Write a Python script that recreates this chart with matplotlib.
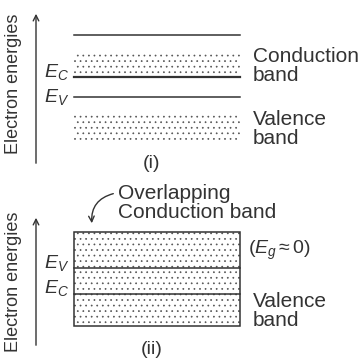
import matplotlib
matplotlib.use("Agg")
import matplotlib.pyplot as plt
from matplotlib.patches import Rectangle, FancyArrowPatch

plt.rcParams['font.family'] = ['Liberation Sans', 'DejaVu Sans']
plt.rcParams['mathtext.fontset'] = 'custom'
plt.rcParams['mathtext.rm'] = 'Liberation Sans'
plt.rcParams['mathtext.it'] = 'Liberation Sans:italic'
plt.rcParams['hatch.linewidth'] = 0.5

# Panel (i): separated bands (pixel-space energy levels, top = high)
p1_top_line = 35
p1_conduction = (52, 77)
p1_ev_line = 97
p1_valence = (115, 142)
# Panel (ii): overlapping bands
p2_box = (232, 326)
p2_lines = [268, 294]
band_x = (74, 240)

labels_i = ["Conduction\nband", "Valence\nband"]
labels_ii = ["Overlapping\nConduction band", r"$(E_g \approx 0)$", "Valence\nband"]

TXT = '#333333'
LINE = '#333333'
DOT = '#555555'
HATCH = '...'

fig = plt.figure(figsize=(3.6, 3.58), dpi=100)
ax = fig.add_axes([0, 0, 1, 1])
ax.set_xlim(0, 360)
ax.set_ylim(358, 0)
ax.axis('off')

x0, x1 = band_x
w = x1 - x0


def stipple(y_top, y_bot):
    ax.add_patch(Rectangle((x0, y_top), w, y_bot - y_top, facecolor='white',
                           edgecolor=DOT, lw=0, hatch=HATCH))


# ---- Panel (i)
ax.annotate('', xy=(36, 11), xytext=(36, 166),
            arrowprops=dict(arrowstyle='->', color=LINE, lw=1.0, mutation_scale=10))
ax.text(14, 84, 'Electron energies', rotation=90, ha='center', va='center',
        fontsize=13, color=TXT)
ax.plot([x0, x1], [p1_top_line, p1_top_line], color=LINE, lw=1.1)
stipple(*p1_conduction)
ax.plot([x0, x1], [p1_conduction[1], p1_conduction[1]], color=LINE, lw=1.6)
ax.plot([x0, x1], [p1_ev_line, p1_ev_line], color=LINE, lw=1.1)
stipple(*p1_valence)
ax.text(69, 72, r'$E_C$', ha='right', va='center', fontsize=14, color=TXT)
ax.text(69, 97, r'$E_V$', ha='right', va='center', fontsize=14, color=TXT)
ax.text(253, 66, labels_i[0], ha='left', va='center', fontsize=15, color=TXT,
        linespacing=1.05)
ax.text(253, 129, labels_i[1], ha='left', va='center', fontsize=15, color=TXT,
        linespacing=1.05)
ax.text(152, 164, '(i)', ha='center', va='center', fontsize=14, color=TXT)

# ---- Panel (ii)
ax.annotate('', xy=(36, 215), xytext=(36, 348),
            arrowprops=dict(arrowstyle='->', color=LINE, lw=1.0, mutation_scale=10))
ax.text(14, 282, 'Electron energies', rotation=90, ha='center', va='center',
        fontsize=13, color=TXT)
stipple(*p2_box)
ax.add_patch(Rectangle((x0, p2_box[0]), w, p2_box[1] - p2_box[0],
                       facecolor='none', edgecolor=LINE, lw=1.1))
for yy in p2_lines:
    ax.plot([x0, x1], [yy, yy], color=LINE, lw=1.1)
ax.text(69, 263, r'$E_V$', ha='right', va='center', fontsize=14, color=TXT)
ax.text(69, 288, r'$E_C$', ha='right', va='center', fontsize=14, color=TXT)
ax.text(118, 203, labels_ii[0], ha='left', va='center', fontsize=15, color=TXT,
        linespacing=1.0)
ax.add_patch(FancyArrowPatch((116, 193), (92, 226), connectionstyle='arc3,rad=0.45',
                             arrowstyle='->', mutation_scale=10, color=LINE, lw=1.0))
ax.text(248, 250, labels_ii[1], ha='left', va='center', fontsize=14, color=TXT)
ax.text(253, 311, labels_ii[2], ha='left', va='center', fontsize=15, color=TXT,
        linespacing=1.05)
ax.text(152, 350, '(ii)', ha='center', va='center', fontsize=14, color=TXT)

fig.savefig('out.png', dpi=100)
